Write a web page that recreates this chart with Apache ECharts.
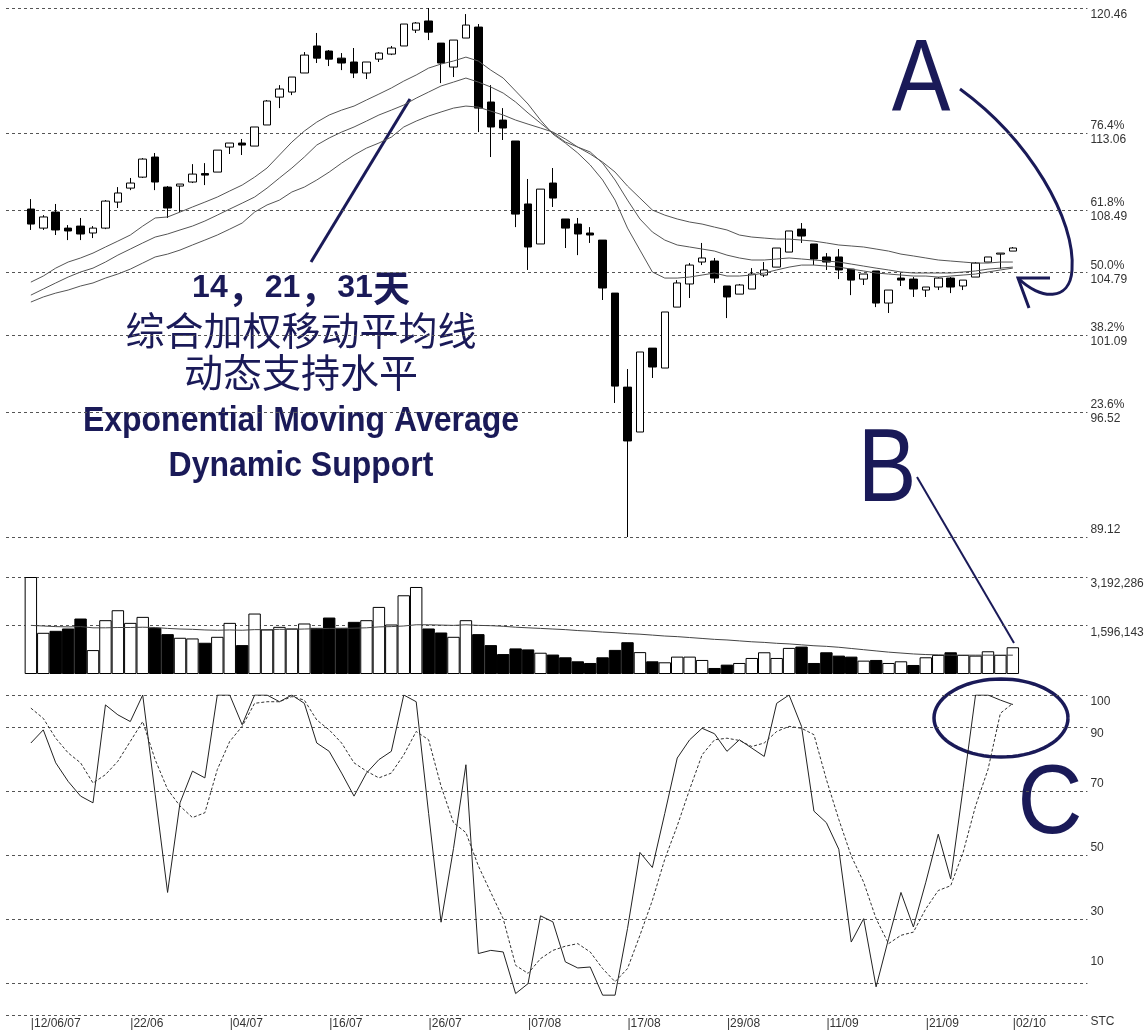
<!DOCTYPE html>
<html><head><meta charset="utf-8">
<script src="https://cdn.jsdelivr.net/npm/echarts@6/dist/echarts.min.js"></script>
<style>html,body{margin:0;padding:0;background:#fff}#c{width:1147px;height:1032px}</style>
</head><body><div id="c"></div>
<script>
// ---------- data ----------
const dates = ['12/06/07','13/06/07','14/06/07','15/06/07','18/06/07','19/06/07','20/06/07','21/06/07','22/06/07','25/06/07','26/06/07','27/06/07','28/06/07','29/06/07',
'02/07/07','03/07/07','04/07/07','05/07/07','06/07/07','09/07/07','10/07/07','11/07/07','12/07/07','13/07/07','16/07/07','17/07/07','18/07/07','19/07/07','20/07/07','23/07/07','24/07/07','25/07/07','26/07/07','27/07/07','30/07/07','31/07/07',
'01/08/07','02/08/07','03/08/07','06/08/07','07/08/07','08/08/07','09/08/07','10/08/07','13/08/07','14/08/07','15/08/07','16/08/07','17/08/07','20/08/07','21/08/07','22/08/07','23/08/07','24/08/07','27/08/07','28/08/07','29/08/07','30/08/07',
'03/09/07','04/09/07','05/09/07','06/09/07','07/09/07','10/09/07','11/09/07','12/09/07','13/09/07','14/09/07','17/09/07','18/09/07','19/09/07','20/09/07','21/09/07','24/09/07','25/09/07','26/09/07','27/09/07','28/09/07',
'01/10/07','02/10/07'];
const tickIndex  = [0, 8, 16, 24, 32, 40, 48, 56, 64, 72, 79];
const tickLabels = ['12/06/07','22/06','04/07','16/07','26/07','07/08','17/08','29/08','11/09','21/09','02/10'];

const opens = [108.55,107.42,108.37,107.42,107.54,107.13,107.42,108.96,109.79,110.44,
111.63,109.85,109.91,110.15,110.65,110.74,112.22,112.46,112.28,113.53,
115.18,115.48,116.61,118.21,117.91,117.49,117.26,116.61,117.43,117.73,
118.21,119.15,119.69,118.38,116.96,118.68,119.33,114.89,113.82,112.58,
108.85,106.48,110.09,107.96,107.66,107.13,106.71,103.57,98.00,95.34,
100.31,99.13,102.74,104.11,105.41,105.47,103.99,103.51,103.81,104.64,
105.11,106.00,107.36,106.48,105.71,105.71,104.99,104.40,104.88,102.98,
104.46,104.40,103.75,103.93,104.46,103.99,104.52,105.41,105.88,106.06];
const closes = [107.66,108.08,107.31,107.25,107.07,107.42,109.02,109.50,110.09,111.51,
110.15,108.61,110.03,110.62,110.56,112.04,112.46,112.34,113.41,114.95,
115.66,116.37,117.67,117.49,117.43,117.20,116.61,117.26,117.79,118.09,
119.51,119.57,119.03,117.20,118.56,119.45,114.53,113.41,113.35,108.25,
106.30,109.73,109.20,107.42,107.07,107.01,103.87,98.06,94.81,100.08,
99.19,102.45,104.17,105.23,105.65,104.46,103.34,104.05,104.70,104.94,
106.24,107.25,106.95,105.59,105.41,104.94,104.34,104.70,102.98,103.75,
104.34,103.81,103.93,104.46,103.93,104.34,105.35,105.71,105.94,106.24];
const lows = [107.31,107.31,107.01,106.71,106.71,106.83,107.36,108.61,109.67,110.39,
109.67,108.02,108.37,110.09,109.97,110.74,111.81,111.75,112.28,113.53,
114.53,115.30,116.61,117.20,117.02,116.78,116.31,116.25,117.26,117.67,
118.21,118.98,118.56,116.01,116.37,118.68,113.11,111.63,112.64,107.48,
104.94,106.48,108.67,106.24,105.82,106.54,103.16,97.06,89.12,95.34,
98.54,99.13,102.74,103.28,105.23,104.17,102.09,103.51,103.81,104.52,
105.11,106.00,106.54,105.23,104.94,104.40,103.45,104.05,102.74,102.39,
103.99,103.34,103.34,103.75,103.57,103.75,104.52,105.41,105.00,106.06];
const highs = [109.14,108.19,108.85,107.60,108.02,107.54,109.08,109.85,110.39,111.57,
111.87,109.91,110.03,111.21,111.27,112.04,112.46,112.70,113.41,115.01,
115.89,116.37,117.85,118.98,117.97,117.79,118.09,117.26,117.85,118.21,
119.51,119.63,120.46,118.38,118.56,120.10,119.51,115.89,114.53,112.58,
110.33,109.73,110.98,107.96,108.02,107.48,106.71,103.57,99.07,100.08,
100.31,102.45,104.34,105.35,106.54,105.65,103.99,104.11,105.05,105.41,
106.24,107.25,107.72,106.48,105.94,106.18,104.99,104.70,104.88,103.75,
104.76,104.52,103.93,104.52,104.52,104.34,105.41,105.71,105.94,106.30];

const ema14 = [104.22,104.58,105.05,105.41,105.65,105.94,106.30,106.65,107.01,107.54,
108.02,108.08,108.37,108.67,108.96,109.26,109.62,109.97,110.44,110.98,
111.75,112.52,113.17,113.70,114.12,114.41,114.65,115.01,115.36,115.72,
116.13,116.49,116.90,117.14,117.32,117.55,117.32,116.78,116.31,115.54,
114.77,113.82,112.99,112.46,111.87,111.16,110.27,109.08,107.42,106.12,
104.82,104.46,104.46,104.52,104.64,104.76,104.58,104.58,104.64,104.76,
104.94,105.11,105.23,105.23,105.17,105.11,104.99,104.88,104.76,104.70,
104.64,104.58,104.58,104.52,104.58,104.64,104.70,104.82,104.94,105.05];
const ema21 = [103.45,103.81,104.17,104.52,104.82,105.05,105.41,105.82,106.18,106.54,
106.89,107.07,107.31,107.54,107.84,108.19,108.55,108.90,109.26,109.79,
110.39,110.98,111.63,112.34,112.76,113.11,113.41,113.76,114.12,114.41,
114.71,115.12,115.48,115.84,116.07,116.31,116.07,115.78,115.42,114.89,
114.24,113.64,113.05,112.52,112.22,111.93,111.27,110.27,109.08,107.96,
107.19,106.71,106.42,106.30,106.18,106.06,105.82,105.65,105.53,105.53,
105.59,105.65,105.59,105.53,105.47,105.41,105.29,105.17,105.05,104.94,
104.82,104.76,104.76,104.76,104.76,104.82,104.88,104.99,105.05,105.11];
const ema31 = [103.04,103.34,103.57,103.75,103.99,104.17,104.46,104.70,104.99,105.35,
105.71,105.88,106.12,106.42,106.71,107.01,107.36,107.72,108.37,108.79,
109.08,109.56,109.85,110.27,110.74,111.27,111.75,112.16,112.46,112.81,
113.41,113.76,114.06,114.30,114.53,114.65,114.59,114.35,114.12,113.82,
113.58,113.35,113.11,112.70,112.22,111.81,111.33,110.74,109.91,109.20,
108.49,108.19,107.96,107.78,107.66,107.48,107.31,107.01,106.89,106.83,
106.77,106.77,106.71,106.65,106.54,106.42,106.36,106.30,106.18,106.06,
105.88,105.77,105.65,105.53,105.47,105.41,105.35,105.35,105.41,105.41];

const volumes = [3192286,1356000,1421000,1498000,1826000,787000,1771000,2099000,1683000,1880000,
1519000,1312000,1192000,1170000,1028000,1224000,1683000,951000,1990000,1465000,
1552000,1498000,1662000,1519000,1858000,1519000,1716000,1771000,2208000,1629000,
2591000,2864000,1498000,1366000,1224000,1771000,1312000,951000,656000,842000,
809000,700000,640000,550000,418000,363000,550000,793000,1046000,720000,
418000,385000,572000,572000,462000,198000,308000,363000,528000,715000,
528000,859000,903000,363000,715000,605000,572000,440000,462000,363000,
418000,297000,550000,627000,715000,627000,605000,748000,627000,880000];
const volumeMA = [1600000,1580000,1560000,1550000,1560000,1520000,1520000,1530000,1530000,1540000,
1530000,1500000,1480000,1470000,1450000,1440000,1450000,1440000,1460000,1460000,
1470000,1470000,1480000,1490000,1500000,1500000,1510000,1520000,1550000,1560000,
1580000,1620000,1620000,1610000,1600000,1620000,1600000,1590000,1570000,1540000,
1520000,1500000,1480000,1460000,1430000,1410000,1380000,1360000,1330000,1310000,
1280000,1250000,1230000,1200000,1170000,1140000,1120000,1090000,1060000,1040000,
1010000,990000,960000,930000,910000,880000,840000,800000,760000,720000,
690000,660000,640000,630000,620000,620000,620000,620000,620000,620000];

const stochK = [85.0,89.1,78.8,73.0,68.4,66.3,96.9,93.8,91.7,100,
69,38.3,66.3,76.2,74.1,100,100,90.7,100,100,
97.9,100,97.4,85.0,82.4,75.6,68.4,75.6,79.8,82.4,
100,97.9,63,29.0,52,78.2,19.2,20.2,19.7,6.7,
9.8,31.0,29.1,16.6,14.7,15.0,6.2,6.2,27,50.8,
46.1,63,80.3,86.0,89.6,87.9,82.4,86.0,83.4,80.8,
97.4,100,90.2,63.7,60.1,51.8,22.8,30.1,8.8,23.8,
38.3,27.5,41.5,56.5,42.5,71,100,100,98.4,97.0];
const stochD = [95.9,92.7,86.5,81.9,78.8,72.5,75.1,79.3,85.5,91.7,
79.8,70.5,65.3,61.7,63.2,76.7,85.5,90.2,97.4,97.9,
97.9,99.5,98.4,92.2,89.1,85.0,78.8,76.2,74.1,75.6,
81.3,88.6,86.0,71.5,60.1,57.0,46.6,38.3,30.1,15.5,
13.0,17.6,20.2,21.5,22.3,19.7,14.5,10.4,14.5,24.9,
35.8,48.7,59.1,70.5,81.3,86.0,86.5,85.8,83.9,85.0,
88.6,90.2,89.6,87.6,73.6,61.1,49.7,41.5,30.1,22.3,
24.9,25.9,33.2,38.9,40.4,50.8,65.3,76.7,94.3,97.4];

const priceLevels   = [120.46, 113.06, 108.49, 104.79, 101.09, 96.52, 89.12];
const priceLevelPct = ['', '76.4%', '61.8%', '50.0%', '38.2%', '23.6%', ''];
const volumeLevels  = [3192286, 1596143];
const stochLevels   = [100, 90, 70, 50, 30, 10, 0];

// ---------- build ----------
const PRE = 2, POST = 6;
const cats = [];
for (let i = 0; i < PRE; i++) cats.push('pre' + i);
dates.forEach(d => cats.push(d));
for (let i = 0; i < POST; i++) cats.push('post' + i);
const pad = (arr, empty) => [...Array(PRE).fill(empty), ...arr, ...Array(POST).fill(empty)];

const candleData = pad(dates.map((d, i) => [opens[i], closes[i], lows[i], highs[i]]), ['-','-','-','-']);
const volData = pad(volumes.map((v, i) => {
  const up = i === 0 || closes[i] >= closes[i - 1];
  return { value: v, itemStyle: { color: up ? '#fff' : '#000' } };
}), '-');

const NAVY = '#1a1a58';
const LBL_FONT = '"Liberation Sans", Arial, sans-serif';
const gridLine = { color: '#555', type: [3, 3], width: 1 };
const thousands = v => String(v).replace(/\B(?=(\d{3})+(?!\d))/g, ',');

function levelMarkLine(items) {
  return {
    silent: true, symbol: ['none', 'none'], animation: false, z: 1,
    lineStyle: gridLine,
    label: { show: true, position: 'end', distance: 3, color: '#333', fontSize: 12, lineHeight: 14, fontFamily: LBL_FONT },
    data: items
  };
}
const priceML = priceLevels.map((v, i) => {
  const val = v.toFixed(2);
  let txt;
  if (priceLevelPct[i]) txt = priceLevelPct[i] + '\n' + val;
  else if (i === 0) txt = '\n' + val;
  else txt = val + '\n';
  return { yAxis: v, label: { formatter: txt } };
});
const volML = volumeLevels.map(v => ({ yAxis: v, label: { formatter: '\n' + thousands(v) } }));
const stochML = stochLevels.map(v => {
  let txt;
  if (v === 0) txt = '\nSTC';
  else if (v >= 90) txt = '\n' + v;
  else if (v === 10) txt = v + '\n\n\n';
  else txt = v + '\n';
  return { yAxis: v, label: { formatter: txt } };
});

const GL = 6, GW = 87 * 12.43;
const xBase = {
  type: 'category', data: cats, boundaryGap: false,
  axisLine: { show: false }, axisTick: { show: false }, splitLine: { show: false },
  axisLabel: { show: false }
};

// ellipse outline for annotation C
const ellPts = [];
for (let k = 0; k <= 72; k++) {
  const a = k / 72 * Math.PI * 2;
  ellPts.push([1001 + 67 * Math.cos(a), 718 + 39 * Math.sin(a)]);
}

const option = {
  animation: false,
  backgroundColor: '#fff',
  grid: [
    { left: GL, width: GW, top: 8, height: 529 },
    { left: GL, width: GW, top: 577, height: 97 },
    { left: GL, width: GW, top: 695, height: 320 }
  ],
  xAxis: [
    Object.assign({}, xBase, { gridIndex: 0 }),
    Object.assign({}, xBase, { gridIndex: 1 }),
    Object.assign({}, xBase, {
      gridIndex: 2,
      axisLabel: {
        show: true, interval: 0, margin: 3, align: 'left', color: '#333', fontSize: 12, fontFamily: LBL_FONT,
        formatter: (val, idx) => { const k = tickIndex.indexOf(idx - PRE); return k >= 0 ? '|' + tickLabels[k] : ''; }
      }
    })
  ],
  yAxis: [
    { gridIndex: 0, type: 'value', min: priceLevels[priceLevels.length - 1], max: priceLevels[0], show: false },
    { gridIndex: 1, type: 'value', min: 0, max: volumeLevels[0], show: false },
    { gridIndex: 2, type: 'value', min: 0, max: 100, show: false }
  ],
  series: [
    {
      type: 'candlestick', xAxisIndex: 0, yAxisIndex: 0, data: candleData, barWidth: 8,
      itemStyle: { color: '#fff', color0: '#000', borderColor: '#000', borderColor0: '#000', borderWidth: 1 },
      markLine: levelMarkLine(priceML)
    },
    { type: 'line', name: 'EMA14', xAxisIndex: 0, yAxisIndex: 0, data: pad(ema14, '-'), showSymbol: false, lineStyle: { color: '#555', width: 1 } },
    { type: 'line', name: 'EMA21', xAxisIndex: 0, yAxisIndex: 0, data: pad(ema21, '-'), showSymbol: false, lineStyle: { color: '#555', width: 1 } },
    { type: 'line', name: 'EMA31', xAxisIndex: 0, yAxisIndex: 0, data: pad(ema31, '-'), showSymbol: false, lineStyle: { color: '#555', width: 1 } },
    {
      type: 'bar', xAxisIndex: 1, yAxisIndex: 1, data: volData, barCategoryGap: '0%',
      itemStyle: { borderColor: '#000', borderWidth: 1 },
      markLine: levelMarkLine(volML)
    },
    { type: 'line', xAxisIndex: 1, yAxisIndex: 1, data: pad(volumeMA, '-'), showSymbol: false, lineStyle: { color: '#444', width: 1 } },
    {
      type: 'line', xAxisIndex: 2, yAxisIndex: 2, data: pad(stochK, '-'), showSymbol: false,
      lineStyle: { color: '#222', width: 1 },
      markLine: levelMarkLine(stochML)
    },
    { type: 'line', xAxisIndex: 2, yAxisIndex: 2, data: pad(stochD, '-'), showSymbol: false, lineStyle: { color: '#333', width: 1, type: [3, 2] } }
  ],
  graphic: [
    // EMA annotation text
    { type: 'text', x: 301, y: 288, style: {
        text: '{d|14}{c|，}{d|21}{c|，}{d|31}{c|天}', align: 'center', verticalAlign: 'middle', fill: NAVY,
        rich: {
          d: { fontSize: 32, fontWeight: 'bold', fontFamily: '"Liberation Sans", Arial, sans-serif', fill: NAVY },
          c: { fontSize: 37, fontWeight: 'bold', fontFamily: '"Noto Sans CJK SC", sans-serif', fill: NAVY }
        } } },
    { type: 'text', x: 301, y: 330, style: { text: '综合加权移动平均线', align: 'center', verticalAlign: 'middle', fill: NAVY,
        font: '39px "Noto Sans CJK SC", sans-serif' } },
    { type: 'text', x: 301, y: 372, style: { text: '动态支持水平', align: 'center', verticalAlign: 'middle', fill: NAVY,
        font: '39px "Noto Sans CJK SC", sans-serif' } },
    { type: 'text', x: 301, y: 421, scaleY: 1.08, style: { text: 'Exponential Moving Average', align: 'center', verticalAlign: 'middle', fill: NAVY,
        font: 'bold 32px "Liberation Sans", Arial, sans-serif' } },
    { type: 'text', x: 301, y: 466, scaleY: 1.08, style: { text: 'Dynamic Support', align: 'center', verticalAlign: 'middle', fill: NAVY,
        font: 'bold 32px "Liberation Sans", Arial, sans-serif' } },
    { type: 'line', shape: { x1: 311, y1: 262, x2: 410, y2: 99 }, style: { stroke: NAVY, lineWidth: 3 } },
    // A
    { type: 'text', x: 921, y: 83, scaleY: 1.16, style: { text: 'A', align: 'center', verticalAlign: 'middle', fill: NAVY,
        font: '88px "Liberation Sans", Arial, sans-serif' } },
    { type: 'bezierCurve', shape: { x1: 960, y1: 89, cpx1: 1030, cpy1: 140, cpx2: 1076, cpy2: 220, x2: 1072, y2: 270 },
      style: { stroke: NAVY, lineWidth: 3, fill: null } },
    { type: 'bezierCurve', shape: { x1: 1072, y1: 270, cpx1: 1070, cpy1: 302, cpx2: 1040, cpy2: 300, x2: 1018, y2: 278 },
      style: { stroke: NAVY, lineWidth: 3, fill: null } },
    { type: 'polyline', shape: { points: [[1050, 278], [1018, 278], [1029, 308]] }, style: { stroke: NAVY, lineWidth: 3, fill: null } },
    // B
    { type: 'text', x: 887, y: 472, scaleY: 1.18, style: { text: 'B', align: 'center', verticalAlign: 'middle', fill: NAVY,
        font: '88px "Liberation Sans", Arial, sans-serif' } },
    { type: 'line', shape: { x1: 917, y1: 477, x2: 1014, y2: 643 }, style: { stroke: NAVY, lineWidth: 2 } },
    // C
    { type: 'polyline', shape: { points: ellPts }, style: { stroke: NAVY, lineWidth: 3.5, fill: null } },
    { type: 'text', x: 1050, y: 806, scaleY: 1.1, style: { text: 'C', align: 'center', verticalAlign: 'middle', fill: NAVY,
        font: '90px "Liberation Sans", Arial, sans-serif' } }
  ]
};

const chart = echarts.init(document.getElementById('c'));
chart.setOption(option);
</script>
</body></html>
